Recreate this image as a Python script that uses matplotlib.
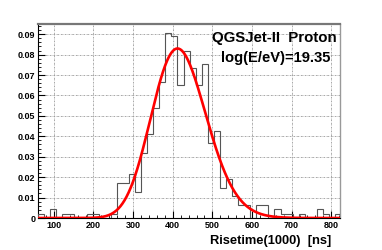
import numpy as np
import matplotlib
matplotlib.use("Agg")
import matplotlib.pyplot as plt
from matplotlib.ticker import MultipleLocator, FixedLocator

# ---- data -------------------------------------------------------------
bin_lo, bin_hi, n_bins = 60.0, 825.0, 50
hist_values = [
    0.0020, 0.0, 0.0043, 0.0, 0.0020, 0.0020, 0.0, 0.0, 0.0020, 0.0020,   # 60-213
    0.0, 0.0, 0.0020, 0.0173, 0.0173, 0.0215, 0.0129, 0.0320, 0.0410, 0.0537,  # 213-366
    0.0668, 0.0905, 0.0889, 0.0650, 0.0820, 0.0733, 0.0650, 0.0755, 0.0366, 0.0428,  # 366-519
    0.0149, 0.0192, 0.0106, 0.0064, 0.0064, 0.0, 0.0064, 0.0064, 0.0, 0.0043,  # 519-672
    0.0020, 0.0020, 0.0, 0.0020, 0.0, 0.0, 0.0043, 0.0020, 0.0, 0.0020,   # 672-825
]
# fit parameters (Gaussian in sqrt(risetime))
fit_amp, fit_peak, fit_sigma_sqrt = 0.083, 412.0, 1.70

x_ticks = [100, 200, 300, 400, 500, 600, 700, 800]
y_ticks = [0, 0.01, 0.02, 0.03, 0.04, 0.05, 0.06, 0.07, 0.08, 0.09]
y_tick_labels = ["0", "0.01", "0.02", "0.03", "0.04", "0.05", "0.06", "0.07", "0.08", "0.09"]
title_line1 = "QGSJet-II  Proton"
title_line2 = "log(E/eV)=19.35"
x_label = "Risetime(1000)  [ns]"

# ---- figure -----------------------------------------------------------
plt.rcParams['font.family'] = ['Liberation Sans', 'DejaVu Sans']
fig = plt.figure(figsize=(3.82, 2.50), dpi=100)
ax = fig.add_axes([0.0995, 0.128, 0.7915, 0.776])

edges = np.linspace(bin_lo, bin_hi, n_bins + 1)
vals = np.asarray(hist_values)
ax.stairs(vals, edges, color="#555555", linewidth=0.8, baseline=0, fill=False, zorder=3)

xf = np.linspace(bin_lo, bin_hi, 600)
yf = fit_amp * np.exp(-0.5 * ((np.sqrt(xf) - np.sqrt(fit_peak)) / fit_sigma_sqrt) ** 2)
ax.plot(xf, yf, color="red", linewidth=1.9, zorder=4, solid_capstyle="butt")

ax.set_xlim(60, 823)
ax.set_ylim(0, 0.095)
ax.xaxis.set_major_locator(FixedLocator(x_ticks))
ax.xaxis.set_minor_locator(MultipleLocator(20))
ax.yaxis.set_major_locator(FixedLocator(y_ticks))
ax.yaxis.set_minor_locator(MultipleLocator(0.002))
ax.set_yticklabels(y_tick_labels)

ax.tick_params(which="both", direction="in", top=False, right=False, color="black")
ax.tick_params(which="major", length=5, width=0.8, labelsize=6.5, pad=2)
ax.tick_params(which="minor", length=2.5, width=0.6)
for lab in ax.get_xticklabels() + ax.get_yticklabels():
    lab.set_fontweight("bold")

ax.grid(True, which="major", color="#999999", linestyle=(0, (2, 1, 0.5, 1)), linewidth=0.6)
ax.set_axisbelow(True)

ax.spines["left"].set_color("black")
ax.spines["bottom"].set_color("black")
ax.spines["left"].set_linewidth(0.8)
ax.spines["bottom"].set_linewidth(0.8)
ax.spines["top"].set_color("#777777")
ax.spines["right"].set_color("#999999")
ax.spines["top"].set_linewidth(1.6)
ax.spines["right"].set_linewidth(1.0)

ax.text(337 / 382, 1 - 38 / 250, title_line1, transform=fig.transFigure, ha="right",
        va="center", fontsize=10.8, fontweight="bold")
ax.text(330 / 382, 1 - 58 / 250, title_line2, transform=fig.transFigure, ha="right",
        va="center", fontsize=10.6, fontweight="bold")
fig.text(331 / 382, 1 - 241 / 250, x_label, ha="right", va="center", fontsize=9.3,
         fontweight="bold")

fig.savefig("out.png", dpi=100)
